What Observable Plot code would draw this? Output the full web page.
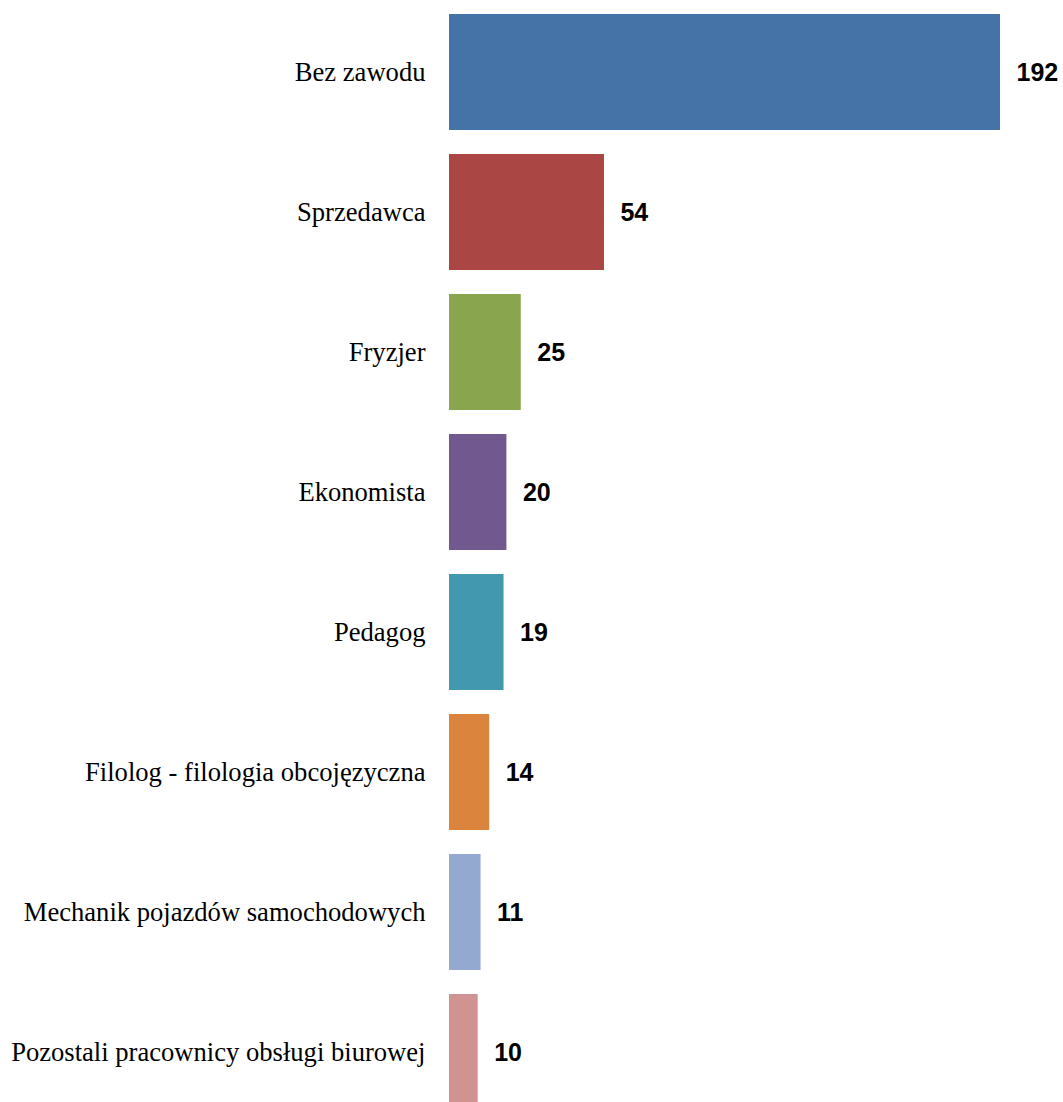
<!DOCTYPE html>
<html>
<head>
<meta charset="utf-8">
<script src="https://cdn.jsdelivr.net/npm/d3@7"></script>
<script src="https://cdn.jsdelivr.net/npm/@observablehq/plot@0.6"></script>
<style>
  html, body { margin: 0; padding: 0; background: #fff; overflow: hidden; }
</style>
</head>
<body>
<div id="chart"></div>
<script>
const categories = [
  "Bez zawodu",
  "Sprzedawca",
  "Fryzjer",
  "Ekonomista",
  "Pedagog",
  "Filolog - filologia obcojęzyczna",
  "Mechanik pojazdów samochodowych",
  "Pozostali pracownicy obsługi biurowej"
];
const values = [192, 54, 25, 20, 19, 14, 11, 10];
const colors = ["#4572a7", "#aa4643", "#89a54e", "#71588f", "#4198af", "#db843d", "#93a9cf", "#d19392"];

const data = categories.map((c, i) => ({category: c, value: values[i]}));

const chart = Plot.plot({
  width: 1063,
  height: 1102,
  style: {background: "#fff"},
  x: {domain: [0, 192], range: [449, 1000], axis: null},
  y: {domain: categories, range: [2, 1122], paddingInner: 0.1714, paddingOuter: 0.0857, axis: null},
  color: {domain: categories, range: colors},
  marks: [
    Plot.barX(data, {x: "value", y: "category", fill: "category"}),
    Plot.text(data, {
      x: 0, y: "category", text: "category", dx: -24, textAnchor: "end",
      fontSize: 26.6, fontFamily: "'Liberation Serif', 'Times New Roman', serif", fill: "#000"
    }),
    Plot.text(data, {
      x: "value", y: "category", text: d => String(d.value), dx: 16, textAnchor: "start",
      fontSize: 25, fontWeight: "bold", fontFamily: "'Liberation Sans', Arial, sans-serif", fill: "#000"
    })
  ]
});
document.getElementById("chart").appendChild(chart);
</script>
</body>
</html>
